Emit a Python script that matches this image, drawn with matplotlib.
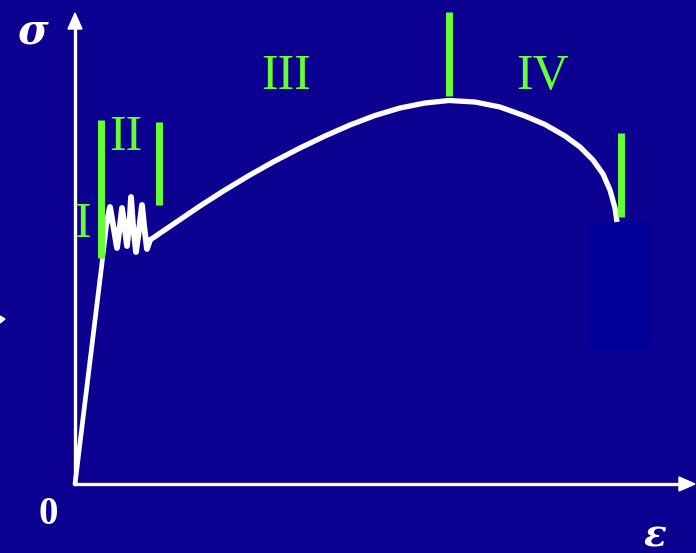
import matplotlib
matplotlib.use("Agg")
import matplotlib.pyplot as plt
from matplotlib.patches import Rectangle, Polygon

# --- data (strain, stress in diagram units; origin at the axes corner) ---
elastic_strain = [0, 32]
elastic_stress = [0, 262]

yield_strain = [32, 35, 39, 42, 45, 47, 50, 52, 55, 56, 58, 61, 64, 67, 69, 72, 75]
yield_stress = [262, 277, 254, 236, 259, 276, 254, 238, 269, 287, 259, 232, 254, 279, 259, 235, 244]

harden_strain = [75, 100, 125, 150, 175, 198, 225, 250, 275, 300, 325, 350, 374, 400, 425,
                 450, 470, 490, 505, 518, 528, 535, 540, 542]
harden_stress = [244, 261, 278, 294, 309, 322, 336, 348, 359, 368.5, 376, 381, 383.5, 382, 377,
                 368, 359.5, 348, 337, 324, 310, 294, 276, 262]

# stage boundary markers: (strain, stress bottom, stress top)
marker_strain = [26, 84, 374, 546]
marker_bottom = [226, 279, 388, 267]
marker_top = [364, 362, 472, 351]

stage_labels = ["I", "II", "III", "IV"]
label_strain = [8, 51, 211, 468]
label_stress = [259, 346, 407, 407]

bg = "#0c0090"
green = "#66ff33"

fig = plt.figure(figsize=(6.96, 5.53), dpi=100)
fig.patch.set_facecolor(bg)
ax = fig.add_axes([0, 0, 1, 1])
ax.set_facecolor(bg)
ax.set_xlim(-75, 621)
ax.set_ylim(-69, 484)
ax.axis("off")

# dark block near fracture
ax.add_patch(Rectangle((515, 134), 61, 128, facecolor="#000098", edgecolor="none", zorder=1))

# axes with arrows
ax.plot([0, 0], [0, 462], color="white", lw=2.4, solid_capstyle="butt", zorder=3)
ax.add_patch(Polygon([[-7, 455], [7, 455], [0, 471]], closed=True, color="white", zorder=3))
ax.plot([0, 607], [0, 0], color="white", lw=2.4, solid_capstyle="butt", zorder=3)
ax.add_patch(Polygon([[604, -7], [604, 7], [620, 0]], closed=True, color="white", zorder=3))
ax.add_patch(Polygon([[-75, 161], [-75, 168], [-70, 165]], closed=True, color="white", zorder=3))

# curve
ax.plot(elastic_strain, elastic_stress, color="white", lw=3.4, solid_capstyle="round", zorder=4)
ax.plot(yield_strain, yield_stress, color="white", lw=4.2, solid_joinstyle="round",
        solid_capstyle="round", zorder=4)
ax.plot(harden_strain, harden_stress, color="white", lw=3.8, solid_joinstyle="round",
        solid_capstyle="butt", zorder=4)

# stage markers
for s, b, t in zip(marker_strain, marker_bottom, marker_top):
    ax.plot([s, s], [b, t], color=green, lw=5, solid_capstyle="butt", zorder=5)

for lab, s, st in zip(stage_labels, label_strain, label_stress):
    ax.text(s, st, lab, color=green, fontsize=36, family="Liberation Serif",
            ha="center", va="center", zorder=6)

ax.text(-42, 453, "σ", color="white", fontsize=30, family="DejaVu Serif",
        style="italic", fontweight="bold", ha="center", va="center")
ax.text(580, -52, "ε", color="white", fontsize=27, family="DejaVu Serif",
        style="italic", fontweight="bold", ha="center", va="center")
ax.text(-27, -30, "0", color="white", fontsize=28, family="Liberation Serif",
        fontweight="bold", ha="center", va="center")

fig.savefig("out.png", dpi=100, facecolor=bg)
